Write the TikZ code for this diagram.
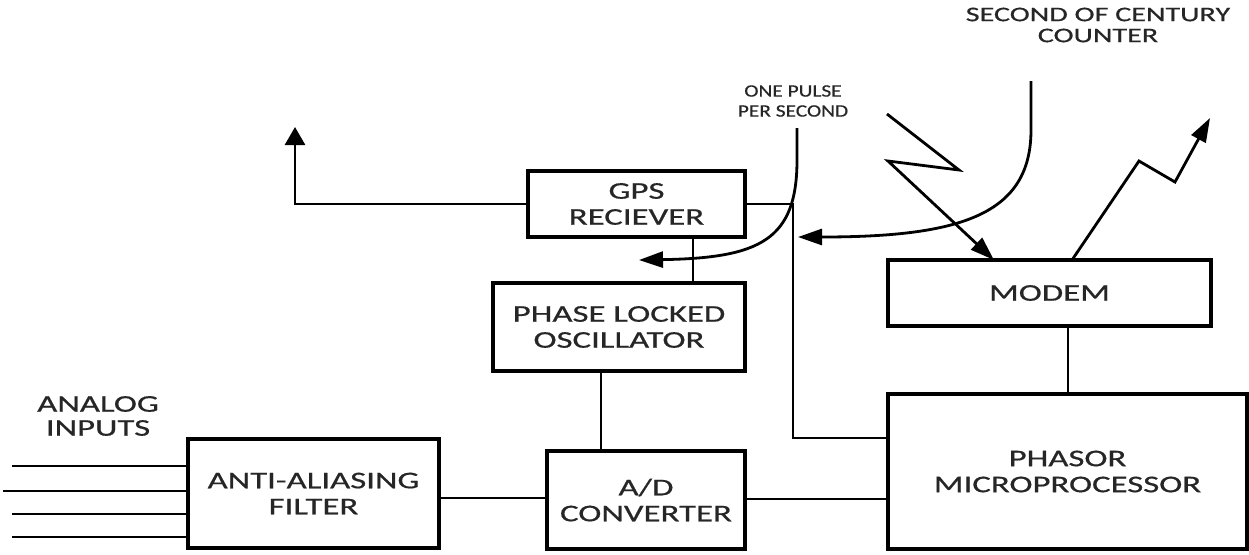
\documentclass[tikz,border=0pt]{standalone}
\usepackage{fontspec}
\setmainfont{Carlito}[FakeStretch=1.45,FakeBold=0.6]
\newfontfamily\ppsfont{Carlito}[FakeStretch=1.23,FakeBold=0.6]
\usetikzlibrary{arrows.meta}
\begin{document}
\begin{tikzpicture}[x=0.5pt,y=-0.5pt,
  box/.style={draw, line width=1.7pt, outer sep=0pt, inner sep=0pt, align=center,
    font=\fontsize{12}{13}\selectfont, text=black!85},
  conn/.style={line width=1.4pt},
  arr/.style={conn, -{Triangle[length=12pt,width=8pt]}},
  uparr/.style={conn, -{Triangle[length=9pt,width=10pt]}},
  lbl/.style={align=center, inner sep=0pt, text=black!85}]
\useasboundingbox (0,0) rectangle (1249,554);

% boxes
\node[box, minimum width=108.5pt, minimum height=33pt] (gps) at (636.5,204) {GPS\\RECIEVER};
\node[box, minimum width=126pt, minimum height=44pt] (plo) at (619,327) {PHASE LOCKED\\OSCILLATOR};
\node[box, minimum width=99pt, minimum height=49pt] (ad) at (646,500) {A/D\\CONVERTER};
\node[box, minimum width=125.5pt, minimum height=54.5pt] (aa) at (313.5,493.5) {ANTI-ALIASING\\FILTER};
\node[box, minimum width=161.5pt, minimum height=33pt] (modem) at (1049.5,293) {MODEM};
\node[box, minimum width=179.5pt, minimum height=77.5pt] (ph) at (1067.5,471.5) {PHASOR\\MICROPROCESSOR};

% labels
\node[lbl, font=\fontsize{10.4}{10.5}\selectfont] (soc) at (1098,25) {SECOND OF CENTURY\\COUNTER};
\node[lbl, font=\ppsfont\fontsize{8.7}{10}\selectfont] (pps) at (793,101) {ONE PULSE\\PER SECOND};
\node[lbl, font=\fontsize{12}{12}\selectfont] (ana) at (98,416) {ANALOG\\INPUTS};

% helper coordinates
\coordinate (up) at (295,127);
\coordinate (j1) at (793,438);
\coordinate (x693) at (693,0);
\coordinate (x601) at (601,0);
\coordinate (yl) at (0,498);
\coordinate (yr) at (0,499);
\coordinate (x1068) at (1068,0);
\coordinate (in1) at (12,466);
\coordinate (in2) at (3,491);
\coordinate (in3) at (12,514);
\coordinate (in4) at (12,537);
\coordinate (z1) at (887,114);
\coordinate (z2) at (959,170);
\coordinate (z3) at (888,161);
\coordinate (zin) at (994,0);
\coordinate (zout) at (1072,0);
\coordinate (w1) at (1139,161);
\coordinate (w2) at (1175,182);
\coordinate (w3) at (1210,118);
\coordinate (s0) at (1031,81);
\coordinate (s1) at (1031,130);
\coordinate (stip) at (798,237);
\coordinate (p0) at (797,128);
\coordinate (p1) at (797,160);
\coordinate (ptip) at (639,260);

% connectors
\draw[uparr] (gps.west) -| (up);
\draw[conn] (gps.east) -| (j1) -- (j1 -| ph.west);
\draw[conn] (gps.south -| x693) -- (plo.north -| x693);
\draw[conn] (plo.south -| x601) -- (ad.north -| x601);
\draw[conn] (aa.east |- yl) -- (ad.west |- yl);
\draw[conn] (ad.east |- yr) -- (ph.west |- yr);
\draw[conn] (modem.south -| x1068) -- (ph.north -| x1068);
\foreach \i in {in1,in2,in3,in4} \draw[conn] (\i) -- (\i -| aa.west);

\draw[arr] (z1) -- (z2) -- (z3) -- (modem.north -| zin);
\draw[arr] (modem.north -| zout) -- (w1) -- (w2) -- (w3);

\draw[arr] (s0) -- (s1) .. controls (1031,215) and (960,237) .. (stip);
\draw[arr] (p0) -- (p1) .. controls (797,240) and (760,258) .. (ptip);
\end{tikzpicture}
\end{document}
